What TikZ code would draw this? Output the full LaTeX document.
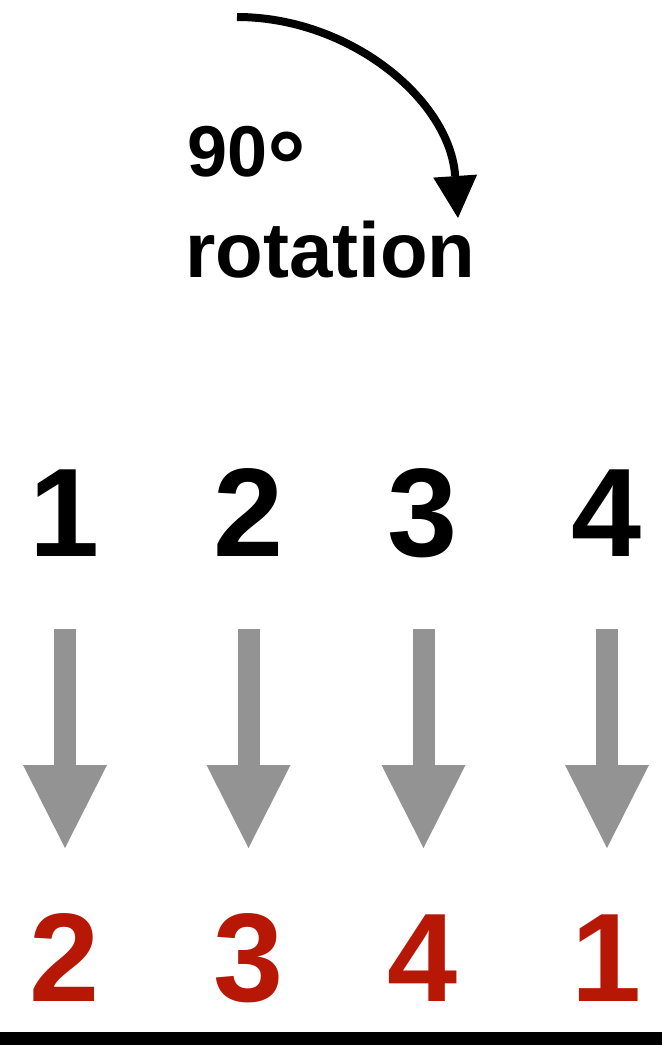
\documentclass[tikz,border=0pt]{standalone}
\usepackage{fontspec}
\setmainfont{Liberation Sans}
\usetikzlibrary{arrows.meta}
\definecolor{numred}{RGB}{183,24,6}
\definecolor{arrowgray}{RGB}{147,147,147}
\newcommand{\digitfont}{\fontsize{126}{126}\selectfont\bfseries}
\newcommand{\labelfont}{\fontsize{78}{78}\selectfont\bfseries}
\newcommand{\anglefont}{\fontsize{72}{72}\selectfont\bfseries}
\newcommand{\bigdegree}{\raisebox{-23pt}[0pt][0pt]{\fontsize{97}{97}\selectfont\bfseries °}}
\begin{document}
\begin{tikzpicture}[x=1pt,y=-1pt,
  digit/.style={inner sep=0pt, anchor=base, font=\digitfont},
  before/.style={digit, text=black},
  after/.style={digit, text=numred},
  label/.style={inner sep=0pt, anchor=base west, font=\labelfont},
  downarrow/.style={draw=arrowgray, color=arrowgray, line width=22pt, line cap=butt,
    -{Triangle[width=84pt,length=83pt,line width=0pt]}},
  turnarrow/.style={draw=black, line width=8pt, line cap=butt,
    -{Triangle[width=44pt,length=42pt,line width=0pt]}}]
  \useasboundingbox (0,0) rectangle (662,1045);

  % rotation label with its curved arrow
  \node[label, font=\anglefont] (deg) at (187,176) {90\bigdegree};
  \node[label] (rot) at (185,277) {rotation};
  \coordinate (turnstart) at (237,17);
  \coordinate (turnend) at (458,218);
  \draw[turnarrow] (turnstart) .. controls (350,17) and (450,100) .. (turnend);

  % original order
  \node[before] (o1) at (65,556)  {1};
  \node[before] (o2) at (249,556) {2};
  \node[before] (o3) at (423,556) {3};
  \node[before] (o4) at (607,556) {4};

  % rotated order
  \node[after] (r1) at (65,1001)  {2};
  \node[after] (r2) at (249,1001) {3};
  \node[after] (r3) at (423,1001) {4};
  \node[after] (r4) at (607,1001) {1};

  % mapping arrows
  \foreach \i/\x in {1/65,2/248.5,3/423.5,4/607}{
    \coordinate (s\i) at (\x,629);
    \coordinate (t\i) at (\x,848);
    \draw[downarrow] (s\i) -- (t\i);
  }

  % base line
  \fill[black] (0,1032) rectangle (662,1045);
\end{tikzpicture}
\end{document}
